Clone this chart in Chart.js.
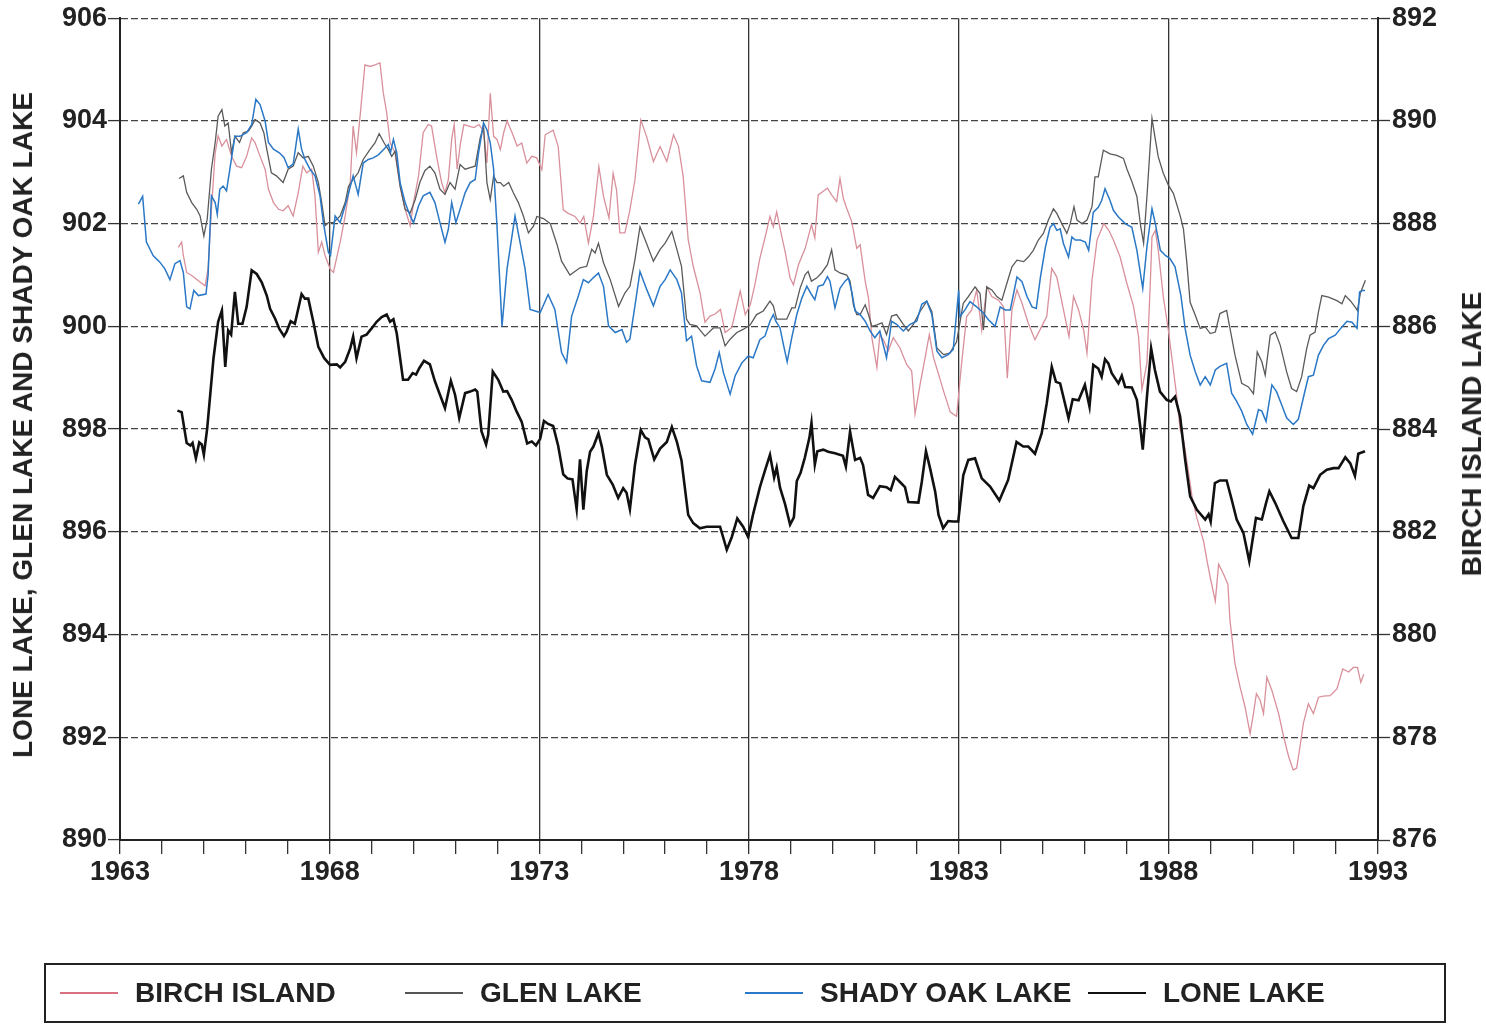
<!DOCTYPE html>
<html>
<head>
<meta charset="utf-8">
<script src="https://cdn.jsdelivr.net/npm/chart.js@4.4.1/dist/chart.umd.min.js"></script>
<style>
  html, body { margin: 0; padding: 0; background: #fff; }
  #wrap { position: relative; width: 1486px; height: 1029px; overflow: hidden; font-family: "Liberation Sans", Arial, sans-serif; font-weight: bold; color: #222; }
  #c { position: absolute; left: 0; top: 0; }
  .vt { position: absolute; white-space: nowrap; font-size: 28px; transform: translate(-50%, -50%) rotate(-90deg); }
  #legend { position: absolute; left: 44px; top: 963px; width: 1398px; height: 56px; border: 2px solid #222; }
  .li { position: absolute; top: 0; height: 56px; display: flex; align-items: center; font-size: 28px; white-space: nowrap; }
  .sw { display: inline-block; width: 58px; margin-right: 17px; }
</style>
</head>
<body>
<div id="wrap">
  <canvas id="c" width="1486" height="1029"></canvas>
  <div class="vt" style="left:23px; top:425px;">LONE LAKE, GLEN LAKE AND SHADY OAK LAKE</div>
  <div class="vt" style="left:1472px; top:434px;">BIRCH ISLAND LAKE</div>
  <div id="legend">
    <div class="li" style="left:14px;"><span class="sw" style="border-top:2px solid #d9707f;"></span>BIRCH ISLAND</div>
    <div class="li" style="left:359px;"><span class="sw" style="border-top:2px solid #555;"></span>GLEN LAKE</div>
    <div class="li" style="left:699px;"><span class="sw" style="border-top:2px solid #2a78c6;"></span>SHADY OAK LAKE</div>
    <div class="li" style="left:1042px;"><span class="sw" style="border-top:2px solid #111;"></span>LONE LAKE</div>
  </div>
</div>
<script>
// ---- Lone Lake (left axis, feet) ----
const loneYears = [1964.37,1964.47,1964.59,1964.68,1964.73,1964.81,1964.89,1964.95,1965.00,1965.08,1965.23,1965.34,1965.43,1965.51,1965.58,1965.65,1965.74,1965.82,1965.92,1966.02,1966.14,1966.26,1966.38,1966.50,1966.58,1966.70,1966.80,1966.91,1966.97,1967.07,1967.17,1967.33,1967.41,1967.49,1967.61,1967.73,1967.87,1968.01,1968.17,1968.25,1968.37,1968.49,1968.56,1968.64,1968.76,1968.88,1969.00,1969.12,1969.24,1969.36,1969.44,1969.52,1969.60,1969.68,1969.75,1969.87,1969.98,1970.06,1970.14,1970.25,1970.39,1970.51,1970.63,1970.75,1970.89,1970.99,1971.09,1971.23,1971.35,1971.47,1971.52,1971.62,1971.73,1971.78,1971.89,1972.02,1972.14,1972.23,1972.34,1972.46,1972.58,1972.71,1972.82,1972.92,1973.02,1973.11,1973.21,1973.33,1973.45,1973.57,1973.67,1973.79,1973.89,1973.97,1974.05,1974.13,1974.21,1974.29,1974.41,1974.49,1974.61,1974.75,1974.88,1975.00,1975.08,1975.16,1975.28,1975.42,1975.52,1975.60,1975.74,1975.88,1976.04,1976.16,1976.28,1976.39,1976.55,1976.67,1976.83,1976.99,1977.19,1977.31,1977.47,1977.59,1977.72,1977.86,1977.98,1978.10,1978.26,1978.38,1978.50,1978.60,1978.66,1978.74,1978.86,1978.98,1979.07,1979.14,1979.23,1979.33,1979.44,1979.49,1979.57,1979.63,1979.77,1979.89,1980.05,1980.24,1980.31,1980.41,1980.53,1980.65,1980.72,1980.84,1980.96,1981.12,1981.28,1981.38,1981.48,1981.60,1981.72,1981.80,1982.04,1982.12,1982.22,1982.32,1982.44,1982.52,1982.63,1982.75,1982.87,1982.99,1983.11,1983.23,1983.39,1983.55,1983.75,1983.97,1984.18,1984.38,1984.54,1984.66,1984.82,1984.98,1985.10,1985.22,1985.32,1985.42,1985.62,1985.72,1985.86,1986.01,1986.12,1986.21,1986.33,1986.41,1986.49,1986.57,1986.65,1986.81,1986.89,1986.97,1987.13,1987.25,1987.33,1987.39,1987.49,1987.59,1987.68,1987.80,1987.96,1988.06,1988.16,1988.28,1988.40,1988.52,1988.68,1988.88,1988.96,1989.01,1989.11,1989.23,1989.39,1989.51,1989.63,1989.79,1989.93,1990.09,1990.23,1990.33,1990.41,1990.55,1990.74,1990.94,1991.10,1991.22,1991.36,1991.46,1991.62,1991.78,1991.94,1992.06,1992.22,1992.34,1992.45,1992.53,1992.69];
const loneLevels = [898.36,898.33,897.73,897.68,897.73,897.43,897.74,897.70,897.50,898.02,899.38,900.09,900.31,899.21,899.92,899.84,900.67,900.05,900.05,900.38,901.09,901.02,900.86,900.60,900.34,900.15,899.95,899.81,899.89,900.10,900.05,900.63,900.54,900.54,900.09,899.60,899.38,899.25,899.26,899.20,899.31,899.57,899.80,899.38,899.80,899.84,899.96,900.09,900.18,900.23,900.09,900.14,899.86,899.38,898.96,898.96,899.09,899.06,899.19,899.33,899.26,898.93,898.67,898.41,898.94,898.67,898.22,898.70,898.73,898.77,898.73,897.96,897.70,897.89,899.12,898.96,898.73,898.74,898.57,898.34,898.14,897.72,897.76,897.68,897.81,898.16,898.10,898.06,897.67,897.12,897.04,897.02,896.44,897.41,896.43,897.18,897.56,897.66,897.92,897.66,897.11,896.92,896.66,896.85,896.76,896.44,897.30,897.98,897.84,897.80,897.41,897.62,897.75,898.04,897.75,897.39,896.33,896.17,896.07,896.10,896.10,896.10,895.65,895.90,896.26,896.10,895.90,896.35,896.87,897.19,897.50,897.06,897.25,896.86,896.54,896.14,896.28,896.99,897.15,897.44,897.83,898.12,897.31,897.57,897.60,897.56,897.53,897.48,897.27,897.95,897.40,897.44,897.30,896.72,896.66,896.89,896.87,896.81,897.07,896.97,896.87,896.58,896.57,896.97,897.57,897.23,896.78,896.33,896.07,896.21,896.20,896.20,897.10,897.40,897.43,897.04,896.88,896.61,897.01,897.75,897.66,897.66,897.52,897.92,898.50,899.21,898.92,898.89,898.21,898.58,898.56,898.86,898.44,899.25,899.18,899.02,899.36,899.28,899.09,898.89,899.04,898.82,898.81,898.57,898.05,897.60,898.63,899.57,899.15,898.73,898.57,898.54,898.63,898.25,897.41,896.69,896.43,896.24,896.34,896.20,896.95,897.00,897.00,896.63,896.24,895.98,895.43,896.27,896.24,896.56,896.79,896.56,896.21,895.88,895.88,896.50,896.90,896.85,897.11,897.21,897.24,897.24,897.45,897.33,897.09,897.52,897.57];

// ---- Shady Oak Lake (left axis) ----
const shadyYears = [1963.44,1963.54,1963.63,1963.79,1963.95,1964.07,1964.19,1964.31,1964.43,1964.51,1964.59,1964.67,1964.76,1964.87,1965.05,1965.10,1965.18,1965.27,1965.32,1965.38,1965.46,1965.54,1965.62,1965.74,1965.86,1966.02,1966.14,1966.24,1966.34,1966.46,1966.54,1966.66,1966.80,1966.91,1967.01,1967.13,1967.25,1967.33,1967.41,1967.53,1967.65,1967.77,1967.85,1967.97,1968.02,1968.13,1968.25,1968.41,1968.56,1968.68,1968.80,1968.92,1969.04,1969.16,1969.28,1969.40,1969.45,1969.52,1969.60,1969.68,1969.80,1969.92,1970.00,1970.12,1970.23,1970.39,1970.51,1970.63,1970.75,1970.83,1970.91,1971.01,1971.11,1971.23,1971.35,1971.47,1971.55,1971.67,1971.75,1971.83,1971.91,1971.99,1972.11,1972.23,1972.42,1972.54,1972.66,1972.78,1973.02,1973.21,1973.37,1973.53,1973.65,1973.77,1973.93,1974.05,1974.17,1974.29,1974.41,1974.53,1974.65,1974.81,1974.97,1975.08,1975.16,1975.28,1975.40,1975.56,1975.72,1975.88,1976.00,1976.12,1976.28,1976.39,1976.51,1976.63,1976.75,1976.87,1977.07,1977.19,1977.29,1977.39,1977.55,1977.67,1977.83,1977.98,1978.10,1978.26,1978.38,1978.50,1978.58,1978.64,1978.74,1978.82,1978.91,1979.02,1979.14,1979.26,1979.38,1979.49,1979.57,1979.65,1979.77,1979.87,1979.93,1980.05,1980.17,1980.29,1980.37,1980.45,1980.53,1980.65,1980.77,1980.89,1981.00,1981.12,1981.28,1981.40,1981.52,1981.68,1981.84,1982.00,1982.12,1982.24,1982.36,1982.48,1982.60,1982.75,1982.87,1983.00,1983.03,1983.15,1983.27,1983.43,1983.59,1983.71,1983.87,1983.99,1984.11,1984.23,1984.39,1984.51,1984.63,1984.75,1984.85,1984.95,1985.07,1985.18,1985.26,1985.34,1985.42,1985.50,1985.62,1985.70,1985.78,1985.90,1986.02,1986.10,1986.21,1986.33,1986.41,1986.49,1986.61,1986.69,1986.81,1986.97,1987.13,1987.25,1987.39,1987.49,1987.61,1987.69,1987.81,1987.93,1988.04,1988.16,1988.30,1988.40,1988.52,1988.64,1988.76,1988.88,1989.00,1989.12,1989.23,1989.39,1989.51,1989.63,1989.75,1989.87,1990.01,1990.15,1990.23,1990.33,1990.47,1990.58,1990.70,1990.82,1990.98,1991.10,1991.22,1991.34,1991.46,1991.58,1991.70,1991.82,1991.98,1992.14,1992.26,1992.38,1992.50,1992.56,1992.64,1992.69];
const shadyLevels = [902.38,902.53,901.64,901.38,901.25,901.12,900.91,901.22,901.28,901.05,900.38,900.34,900.70,900.60,900.63,900.99,902.54,902.41,902.18,902.67,902.73,902.64,903.06,903.70,903.70,903.77,903.93,904.42,904.32,904.00,903.58,903.45,903.38,903.29,903.09,903.16,903.84,903.45,903.25,903.06,902.93,902.54,902.02,901.44,901.38,902.15,902.02,902.47,902.93,902.57,903.18,903.25,903.28,903.34,903.44,903.54,903.38,903.64,903.38,902.80,902.41,902.15,902.02,902.35,902.54,902.61,902.41,902.02,901.64,901.89,902.41,902.02,902.28,902.60,902.80,902.86,903.38,903.96,903.83,903.57,903.06,901.96,900.00,901.12,902.15,901.64,901.12,900.33,900.27,900.62,900.33,899.49,899.30,900.20,900.59,900.91,900.85,900.95,901.04,900.78,900.01,899.88,899.94,899.69,899.75,900.40,901.07,900.72,900.40,900.78,900.91,901.10,900.91,900.65,899.72,899.81,899.23,898.94,898.91,899.17,899.49,899.10,898.68,899.04,899.29,899.42,899.39,899.74,899.81,900.10,900.23,900.10,899.97,899.65,899.31,899.78,900.23,900.55,900.78,900.62,900.52,900.78,900.81,900.97,900.88,900.36,900.74,900.88,900.94,900.68,900.30,900.23,900.10,899.91,899.78,899.91,899.39,900.10,900.04,899.91,900.04,900.10,900.43,900.49,900.23,899.52,899.39,899.45,899.55,900.70,900.19,900.32,900.48,900.38,900.26,900.13,900.00,900.38,900.32,900.32,900.96,900.87,900.58,900.38,900.35,900.96,901.55,901.93,902.00,901.87,901.90,901.61,901.35,901.74,901.68,901.68,901.64,901.48,902.22,902.32,902.45,902.68,902.45,902.26,902.13,902.00,901.93,901.48,900.74,901.55,902.29,902.00,901.48,901.38,901.32,901.16,900.60,899.96,899.44,899.12,898.86,899.02,898.86,899.15,899.22,899.28,898.70,898.54,898.35,898.09,897.90,898.38,898.35,898.15,898.86,898.73,898.48,898.22,898.09,898.19,898.61,899.02,899.05,899.44,899.63,899.76,899.83,899.99,900.10,900.08,899.96,900.67,900.70,900.70];

// ---- Glen Lake (left axis) ----
const glenYears = [1964.41,1964.51,1964.59,1964.71,1964.83,1964.91,1965.00,1965.08,1965.18,1965.27,1965.34,1965.43,1965.50,1965.58,1965.66,1965.74,1965.85,1965.94,1966.06,1966.14,1966.22,1966.34,1966.43,1966.50,1966.61,1966.73,1966.89,1967.01,1967.13,1967.25,1967.37,1967.49,1967.61,1967.73,1967.81,1967.89,1967.97,1968.09,1968.25,1968.37,1968.45,1968.56,1968.68,1968.80,1968.96,1969.08,1969.18,1969.30,1969.40,1969.48,1969.56,1969.68,1969.80,1969.92,1970.04,1970.15,1970.27,1970.39,1970.51,1970.63,1970.75,1970.87,1970.99,1971.11,1971.23,1971.35,1971.47,1971.59,1971.67,1971.75,1971.83,1971.91,1971.99,1972.07,1972.15,1972.27,1972.38,1972.50,1972.62,1972.74,1972.86,1972.94,1973.10,1973.26,1973.42,1973.53,1973.73,1973.97,1974.13,1974.25,1974.33,1974.41,1974.53,1974.69,1974.89,1975.04,1975.16,1975.28,1975.40,1975.52,1975.72,1975.88,1976.00,1976.16,1976.28,1976.39,1976.51,1976.59,1976.75,1976.95,1977.15,1977.31,1977.43,1977.55,1977.71,1977.86,1978.03,1978.18,1978.34,1978.50,1978.58,1978.66,1978.78,1978.90,1979.02,1979.10,1979.22,1979.34,1979.41,1979.49,1979.61,1979.73,1979.87,1979.97,1980.05,1980.17,1980.33,1980.41,1980.49,1980.57,1980.65,1980.77,1980.85,1980.93,1981.05,1981.17,1981.28,1981.40,1981.52,1981.68,1981.80,1981.92,1982.08,1982.24,1982.36,1982.48,1982.64,1982.79,1982.95,1983.11,1983.23,1983.39,1983.51,1983.59,1983.67,1983.79,1983.91,1984.03,1984.15,1984.27,1984.39,1984.55,1984.66,1984.78,1984.90,1985.02,1985.14,1985.26,1985.34,1985.46,1985.58,1985.66,1985.75,1985.82,1985.94,1986.06,1986.18,1986.25,1986.33,1986.45,1986.61,1986.77,1986.93,1987.01,1987.13,1987.25,1987.34,1987.41,1987.49,1987.61,1987.68,1987.76,1987.88,1988.00,1988.12,1988.28,1988.36,1988.44,1988.52,1988.64,1988.76,1988.88,1989.00,1989.12,1989.23,1989.39,1989.47,1989.59,1989.75,1989.91,1990.03,1990.12,1990.23,1990.31,1990.43,1990.55,1990.67,1990.82,1990.94,1991.06,1991.18,1991.30,1991.38,1991.50,1991.58,1991.66,1991.82,1992.02,1992.14,1992.22,1992.34,1992.46,1992.51,1992.58,1992.70];
const glenLevels = [902.88,902.93,902.61,902.41,902.28,902.15,901.76,902.09,903.06,903.58,904.09,904.22,903.90,903.96,903.38,903.70,903.58,903.77,903.80,903.90,904.03,903.96,903.77,903.45,902.99,902.93,902.80,903.06,903.12,903.38,903.28,903.31,903.12,902.80,902.41,901.96,902.02,902.02,902.15,902.41,902.73,902.86,902.99,903.25,903.44,903.57,903.75,903.57,903.44,903.31,903.41,902.73,902.28,902.21,902.47,902.80,903.03,903.12,902.99,902.67,902.57,902.80,902.67,903.15,903.06,903.09,903.12,903.67,903.90,902.80,902.47,902.93,902.80,902.80,902.73,902.80,902.60,902.41,902.15,901.82,901.95,902.14,902.10,902.00,901.60,901.27,901.00,901.14,901.17,901.50,901.43,901.62,901.24,900.91,900.39,900.65,900.78,901.30,901.94,901.69,901.27,901.50,901.62,901.85,901.50,901.17,900.14,900.04,900.01,899.81,899.97,899.97,899.62,899.75,899.88,899.94,900.03,900.23,900.30,900.49,900.40,900.14,900.14,900.14,900.36,900.36,900.75,901.01,901.07,900.88,900.94,901.04,901.20,901.49,901.10,901.04,901.00,900.88,900.42,900.23,900.23,900.42,900.23,900.00,900.03,900.07,899.84,900.20,900.23,900.04,899.91,900.04,900.29,900.49,900.29,899.58,899.45,899.48,899.70,900.45,900.58,900.77,900.64,899.93,900.77,900.71,900.58,900.51,900.84,901.16,901.29,901.26,901.35,901.48,901.68,901.81,902.07,902.29,902.20,902.00,901.81,902.00,902.33,902.07,902.00,902.07,902.33,902.91,902.91,903.43,903.36,903.33,903.27,903.07,902.82,902.53,901.95,901.62,902.53,904.05,903.69,903.30,902.98,902.75,902.59,902.16,901.90,901.25,900.47,900.22,899.96,899.99,899.86,899.89,900.25,900.31,899.96,899.44,898.89,898.82,898.69,899.50,899.31,899.05,899.83,899.89,899.63,899.12,898.79,898.73,899.02,899.57,899.83,899.89,900.28,900.60,900.57,900.50,900.44,900.60,900.50,900.37,900.31,900.65,900.90];

// ---- Birch Island Lake (right axis) ----
const birchYears = [1964.39,1964.47,1964.51,1964.59,1964.71,1964.87,1965.03,1965.10,1965.18,1965.27,1965.34,1965.43,1965.54,1965.66,1965.78,1965.90,1966.02,1966.14,1966.22,1966.34,1966.46,1966.54,1966.66,1966.78,1966.89,1967.01,1967.13,1967.25,1967.36,1967.45,1967.57,1967.65,1967.73,1967.81,1967.89,1968.01,1968.09,1968.25,1968.37,1968.49,1968.56,1968.64,1968.74,1968.84,1968.96,1969.08,1969.20,1969.28,1969.36,1969.44,1969.56,1969.68,1969.80,1969.92,1970.00,1970.12,1970.23,1970.35,1970.43,1970.55,1970.67,1970.75,1970.83,1970.91,1970.97,1971.04,1971.12,1971.20,1971.32,1971.44,1971.56,1971.67,1971.75,1971.83,1971.91,1971.99,1972.07,1972.15,1972.23,1972.35,1972.47,1972.58,1972.70,1972.82,1972.94,1973.06,1973.14,1973.33,1973.45,1973.57,1973.69,1973.85,1973.97,1974.06,1974.17,1974.29,1974.42,1974.53,1974.66,1974.76,1974.84,1974.92,1975.04,1975.16,1975.28,1975.42,1975.56,1975.72,1975.88,1976.04,1976.20,1976.32,1976.43,1976.55,1976.67,1976.83,1976.95,1977.07,1977.19,1977.32,1977.43,1977.59,1977.69,1977.79,1977.91,1978.03,1978.14,1978.26,1978.38,1978.50,1978.58,1978.66,1978.74,1978.86,1978.98,1979.06,1979.18,1979.34,1979.49,1979.57,1979.65,1979.77,1979.87,1979.97,1980.09,1980.17,1980.25,1980.33,1980.45,1980.57,1980.65,1980.77,1980.85,1980.93,1981.05,1981.12,1981.20,1981.32,1981.44,1981.60,1981.76,1981.88,1981.96,1982.08,1982.20,1982.30,1982.40,1982.52,1982.64,1982.80,1982.95,1983.07,1983.19,1983.31,1983.43,1983.55,1983.67,1983.79,1983.95,1984.07,1984.16,1984.27,1984.39,1984.51,1984.66,1984.82,1984.98,1985.10,1985.22,1985.34,1985.50,1985.63,1985.74,1985.86,1985.98,1986.06,1986.18,1986.30,1986.46,1986.58,1986.69,1986.85,1987.01,1987.17,1987.29,1987.37,1987.49,1987.57,1987.61,1987.69,1987.76,1987.88,1988.00,1988.10,1988.20,1988.28,1988.37,1988.49,1988.57,1988.68,1988.84,1988.92,1989.00,1989.12,1989.20,1989.32,1989.42,1989.47,1989.59,1989.71,1989.83,1989.95,1990.03,1990.10,1990.19,1990.27,1990.35,1990.47,1990.63,1990.75,1990.87,1990.98,1991.06,1991.14,1991.22,1991.34,1991.46,1991.58,1991.70,1991.86,1992.02,1992.16,1992.30,1992.41,1992.51,1992.59,1992.66];
const birchLevels = [887.54,887.64,887.38,887.05,886.99,886.89,886.79,887.12,888.28,889.38,889.71,889.51,889.64,889.31,889.12,889.09,889.31,889.67,889.58,889.31,889.06,888.67,888.41,888.28,888.25,888.35,888.15,888.60,889.12,888.99,889.06,888.54,887.44,887.64,887.38,887.12,887.05,887.64,888.15,888.80,889.90,889.38,890.22,891.09,891.06,891.09,891.13,890.54,890.16,889.58,889.38,888.73,888.28,887.96,888.41,888.93,889.77,889.93,889.90,889.31,888.80,888.60,888.86,889.64,889.93,889.06,889.57,889.93,889.90,889.87,889.93,889.80,889.18,890.54,889.70,889.64,889.44,889.77,890.00,889.77,889.51,889.57,889.18,889.31,889.28,889.05,889.73,889.82,889.50,888.27,888.20,888.14,888.01,888.14,887.62,888.14,889.11,888.53,888.11,888.98,888.66,887.82,887.82,888.27,888.85,890.02,889.69,889.21,889.50,889.21,889.73,889.50,888.92,887.69,887.17,886.66,886.08,886.20,886.24,886.33,885.88,885.98,886.33,886.69,886.23,886.42,886.81,887.33,887.72,888.14,887.94,888.23,887.91,887.46,886.94,886.81,887.20,887.52,887.98,887.72,888.56,888.63,888.69,888.56,888.43,888.88,888.49,888.30,888.04,887.52,887.59,886.88,886.55,885.78,885.20,885.84,885.75,885.52,885.78,885.58,885.26,885.13,884.29,884.87,885.39,885.84,885.39,885.07,884.74,884.33,884.25,885.28,886.19,886.32,886.71,885.93,886.77,886.58,886.51,886.38,884.99,886.32,886.71,886.45,886.06,885.74,886.00,886.19,887.13,886.96,886.32,885.80,886.58,886.32,885.93,885.48,886.90,887.68,888.00,887.87,887.68,887.35,886.84,886.39,885.80,884.77,885.29,886.84,887.74,887.87,887.48,886.58,885.93,885.29,884.64,884.00,883.76,883.11,882.66,882.27,881.82,881.45,881.11,880.65,881.37,881.17,880.98,880.27,879.43,878.98,878.59,878.07,878.46,878.85,878.72,878.46,879.17,878.91,878.46,878.01,877.62,877.36,877.40,877.82,878.27,878.65,878.46,878.78,878.80,878.81,878.94,879.33,879.27,879.36,879.36,879.07,879.23];

// ---- axis tick settings ----
const xMin = 1963, xMax = 1993, xMajorEvery = 5;
const leftMin = 890, leftMax = 906, rightMin = 876, rightMax = 892, yStep = 2;

function pts(xs, ys) { return xs.map((x, i) => ({ x: x, y: ys[i] })); }

const INK = '#222';
const tickFont = { family: '"Liberation Sans", Arial, sans-serif', size: 27, weight: 'bold' };

new Chart(document.getElementById('c'), {
  type: 'line',
  data: {
    datasets: [
      { label: 'LONE LAKE', data: pts(loneYears, loneLevels), yAxisID: 'y', borderColor: '#111', borderWidth: 2.6 },
      { label: 'SHADY OAK LAKE', data: pts(shadyYears, shadyLevels), yAxisID: 'y', borderColor: '#2a78c6', borderWidth: 1.5 },
      { label: 'GLEN LAKE', data: pts(glenYears, glenLevels), yAxisID: 'y', borderColor: '#5a5a5a', borderWidth: 1.3 },
      { label: 'BIRCH ISLAND', data: pts(birchYears, birchLevels), yAxisID: 'y2', borderColor: '#d9909b', borderWidth: 1.3 }
    ]
  },
  options: {
    responsive: false,
    animation: false,
    devicePixelRatio: 1,
    layout: { padding: { top: 15, left: 0, right: 0, bottom: 0 } },
    elements: { point: { radius: 0 }, line: { tension: 0, fill: false } },
    plugins: { legend: { display: false }, tooltip: { enabled: false } },
    scales: {
      x: {
        type: 'linear', position: 'bottom', min: xMin, max: xMax,
        afterFit: s => { s.height = 189; },
        ticks: {
          stepSize: 1, autoSkip: false, maxRotation: 0, minRotation: 0, padding: 2,
          color: INK, font: tickFont,
          callback: v => (Math.round(v - xMin) % xMajorEvery === 0 ? String(Math.round(v)) : '')
        },
        grid: {
          color: c => (c.tick && Math.round(c.tick.value - xMin) % xMajorEvery === 0) ? '#333' : 'rgba(0,0,0,0)',
          lineWidth: 1.3, tickColor: '#333', tickLength: 14, tickWidth: 1.3
        },
        border: { color: INK, width: 2 }
      },
      y: {
        position: 'left', min: leftMin, max: leftMax,
        afterFit: s => { s.width = 120; },
        ticks: { stepSize: yStep, padding: 1, color: INK, font: tickFont },
        grid: { color: '#444', lineWidth: 1.2, tickColor: '#333', tickLength: 12, tickWidth: 1.3 },
        border: { color: INK, width: 2, dash: [7, 3] }
      },
      y2: {
        position: 'right', min: rightMin, max: rightMax,
        afterFit: s => { s.width = 108; },
        ticks: { stepSize: yStep, padding: 2, color: INK, font: tickFont },
        grid: { drawOnChartArea: false, tickColor: '#333', tickLength: 12, tickWidth: 1.3 },
        border: { color: INK, width: 2 }
      }
    }
  }
});
</script>
</body>
</html>
